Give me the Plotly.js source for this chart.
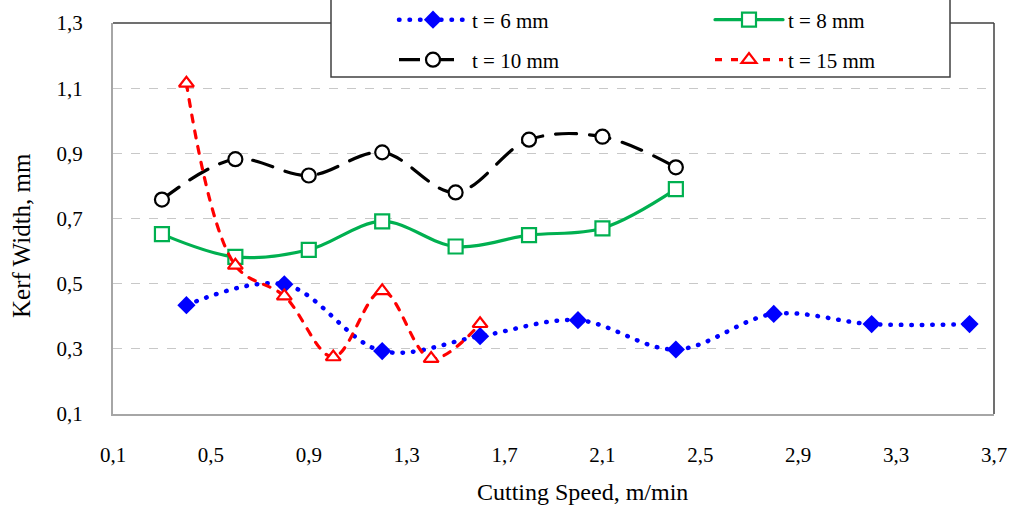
<!DOCTYPE html>
<html>
<head>
<meta charset="utf-8">
<script src="https://cdn.plot.ly/plotly-3.0.1.min.js"></script>
<style>
html,body{margin:0;padding:0;background:#fff;}
#chart{width:1011px;height:507px;}
.scatterlayer .js-line, .legend .js-line{stroke-linecap:round;}
</style>
</head>
<body>
<div id="chart"></div>
<script>
// Data
const speed6  = [0.4, 0.8, 1.2, 1.6, 2.0, 2.4, 2.8, 3.2, 3.6];
const kerf6   = [0.434, 0.498, 0.293, 0.339, 0.388, 0.298, 0.407, 0.376, 0.376];

const speed8  = [0.3, 0.6, 0.9, 1.2, 1.5, 1.8, 2.1, 2.4];
const kerf8   = [0.652, 0.582, 0.604, 0.691, 0.614, 0.649, 0.670, 0.790];

const speed10 = [0.3, 0.6, 0.9, 1.2, 1.5, 1.8, 2.1, 2.4];
const kerf10  = [0.758, 0.882, 0.832, 0.903, 0.780, 0.942, 0.951, 0.857];

const speed15 = [0.4, 0.6, 0.8, 1.0, 1.2, 1.4, 1.6];
const kerf15  = [1.115, 0.556, 0.462, 0.275, 0.478, 0.270, 0.377];

const seriesNames = ['t = 6 mm', 't = 8 mm', 't = 10 mm', 't = 15 mm'];
const xTickVals = [0.1, 0.5, 0.9, 1.3, 1.7, 2.1, 2.5, 2.9, 3.3, 3.7];
const yTickVals = [0.1, 0.3, 0.5, 0.7, 0.9, 1.1, 1.3];
const xTitle = 'Cutting Speed, m/min';
const yTitle = 'Kerf Width, mm';

const fmt = v => v.toFixed(1).replace('.', ',');
const serif = 'Liberation Serif, Times New Roman, serif';

const traces = [
  {x: speed6, y: kerf6, name: seriesNames[0], type: 'scatter', mode: 'lines+markers',
   line: {color: '#0000ff', width: 4.5, dash: '0.5px,10px', shape: 'spline', smoothing: 1},
   marker: {symbol: 'diamond', size: 14, color: '#0000ff'}, legend: 'legend'},
  {x: speed8, y: kerf8, name: seriesNames[1], type: 'scatter', mode: 'lines+markers',
   line: {color: '#00b050', width: 3.2, shape: 'spline', smoothing: 1},
   marker: {symbol: 'square', size: 14, color: '#ffffff', line: {color: '#00b050', width: 2.2}}, legend: 'legend'},
  {x: speed10, y: kerf10, name: seriesNames[2], type: 'scatter', mode: 'lines+markers',
   line: {color: '#000000', width: 3.2, dash: '21px,13px', shape: 'spline', smoothing: 1},
   marker: {symbol: 'circle', size: 14, color: '#ffffff', line: {color: '#000000', width: 2.2}}, legend: 'legend2'},
  {x: speed15, y: kerf15, name: seriesNames[3], type: 'scatter', mode: 'lines+markers',
   line: {color: '#ff0000', width: 3.2, dash: '7px,9px', shape: 'spline', smoothing: 1},
   marker: {symbol: 'triangle-up', size: 13, color: '#ffffff', line: {color: '#ff0000', width: 2.2}}, legend: 'legend2'}
];

const L = 113, R = 994, T = 23, B = 414;
const px2x = X => (X - L) / (R - L);
const px2y = Y => (B - Y) / (B - T);

const legendCommon = {
  orientation: 'h', xanchor: 'left', yanchor: 'middle',
  bgcolor: 'rgba(0,0,0,0)', borderwidth: 0,
  font: {family: serif, size: 21, color: '#000'},
  entrywidth: 233, entrywidthmode: 'pixels', itemwidth: 68, itemclick: false
};

const layout = {
  width: 1011, height: 507,
  margin: {l: L, r: 1011 - R, t: T, b: 507 - B, autoexpand: false},
  paper_bgcolor: '#ffffff', plot_bgcolor: '#ffffff',
  font: {family: serif, size: 21, color: '#000'},
  separators: ',.',
  showlegend: true,
  xaxis: {
    range: [0.1, 3.7], tickvals: xTickVals, ticktext: xTickVals.map(fmt),
    showgrid: false, zeroline: false, showline: true, linecolor: '#a6a6a6', linewidth: 2,
    ticks: '', ticklabelstandoff: 21, tickfont: {family: serif, size: 21, color: '#000'},
    automargin: false
  },
  yaxis: {
    range: [0.1, 1.3], tickvals: yTickVals, ticktext: yTickVals.map(fmt),
    showgrid: true, gridcolor: '#c8c8c8', griddash: 'dash', gridwidth: 1,
    zeroline: false, showline: true, linecolor: '#a6a6a6', linewidth: 2,
    ticks: '', ticklabelstandoff: 24, tickfont: {family: serif, size: 21, color: '#000'},
    automargin: false
  },
  legend: Object.assign({}, legendCommon, {x: px2x(394), y: px2y(20)}),
  legend2: Object.assign({}, legendCommon, {x: px2x(394), y: px2y(60)}),
  annotations: [
    {text: xTitle, xref: 'paper', yref: 'paper', x: px2x(582), y: px2y(492),
     xanchor: 'center', yanchor: 'middle', showarrow: false,
     font: {family: serif, size: 24, color: '#000'}},
    {text: yTitle, xref: 'paper', yref: 'paper', x: px2x(22), y: px2y(236), textangle: -90,
     xanchor: 'center', yanchor: 'middle', showarrow: false,
     font: {family: serif, size: 25, color: '#000'}}
  ],
  shapes: [
    {type: 'line', xref: 'paper', yref: 'paper', x0: 0, x1: 1, y0: 1, y1: 1, line: {color: '#404040', width: 1.5}, layer: 'above'},
    {type: 'line', xref: 'paper', yref: 'paper', x0: 1, x1: 1, y0: 0, y1: 1, line: {color: '#404040', width: 1.5}, layer: 'above'},
    {type: 'rect', xref: 'paper', yref: 'paper', x0: px2x(331), x1: px2x(950), y0: px2y(77), y1: px2y(-40),
     fillcolor: '#ffffff', line: {color: '#404040', width: 1.5}, layer: 'above'}
  ]
};

Plotly.newPlot('chart', traces, layout, {displayModeBar: false, staticPlot: true});
</script>
</body>
</html>
